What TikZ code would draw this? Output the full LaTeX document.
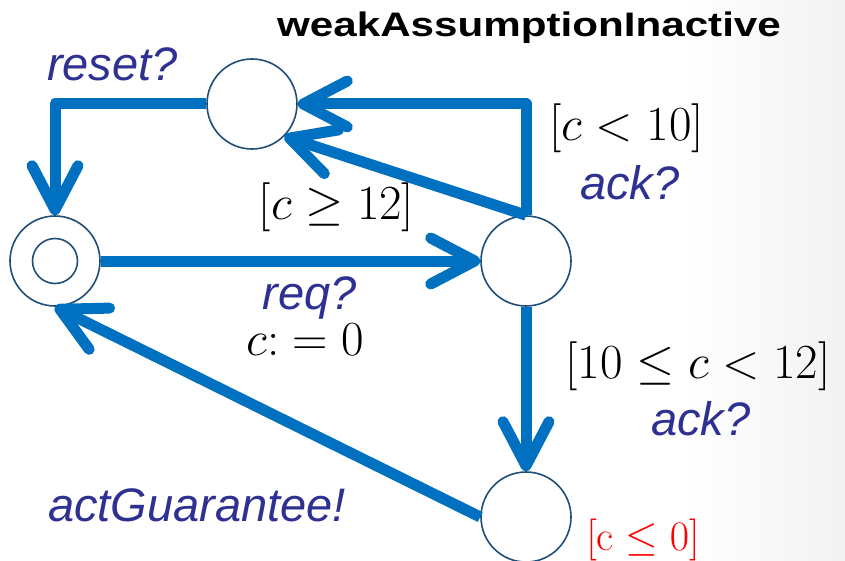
\documentclass[tikz,border=0pt]{standalone}
\usepackage{fix-cm}
\usepackage{fontspec}
\newfontfamily\arialfont{Liberation Sans}
\usetikzlibrary{arrows.meta, positioning}
\definecolor{arrowblue}{RGB}{0,112,192}
\definecolor{statenavy}{RGB}{31,78,121}
\definecolor{labelindigo}{RGB}{46,49,146}
\tikzstyle{loc} = [circle, minimum size=90pt, inner sep=0pt, draw=statenavy, line width=1.6pt, fill=white]
\tikzstyle{inloc} = [circle, minimum size=45pt, inner sep=0pt, draw=statenavy, line width=1.6pt]
\tikzstyle{lbl} = [inner sep=0pt, text=labelindigo, font=\fontsize{47}{50}\selectfont\arialfont\itshape]
\tikzstyle{guard} = [inner sep=0pt, text=black, font=\fontsize{49}{52}\selectfont]
\tikzstyle{inv} = [inner sep=0pt, text=red, font=\fontsize{42}{44}\selectfont]
\tikzstyle{heading} = [inner sep=0pt, font=\fontsize{34}{38}\selectfont\arialfont\bfseries]
\tikzstyle{arrow} = [line width=11pt, draw=arrowblue, line join=round, -{Straight Barb[length=44pt, width=46pt, round]}]

\begin{document}
\begin{tikzpicture}[x=1pt, y=1pt, node distance=157pt]

% background
\shade[left color=white, right color=gray!10] (680,0) rectangle (845,-561);
\useasboundingbox (0,0) rectangle (845,-561);

% locations
\node (init) [loc] at (55,-261) {};
\node (initIn) [inloc] at (init) {};
\node (top) [loc, above of=init, xshift=197pt] {};
\node (mid) [loc, right of=init, xshift=314pt] {};
\node (bot) [loc, below of=mid, yshift=-99pt] {};

\node (heading) [heading, above of=mid, xshift=3pt, yshift=76pt] {\scalebox{1.24}[1]{weakAssumptionInactive}};

% transitions
\draw[arrow] (top) -| node[lbl, pos=0.31, above=18pt] (resetLbl) {reset?} (init);

\draw[arrow] (init) -- node[lbl, pos=0.55, below=10pt] (reqLbl) {req?} (mid);
\node (clkReset) [guard, node distance=42pt, below of=reqLbl, xshift=-4pt] {$c{:}=0$};

\draw[arrow] (mid) |- node[guard, pos=0.39, right=18pt] (guardTen) {$[c<10]$} (top);
\node (ackTen) [lbl, node distance=54pt, below of=guardTen, xshift=3pt] {ack?};

\draw[arrow] (mid.north) -- node[guard, pos=0.44, anchor=north east, yshift=3pt] (guardTwelve) {$[c\geq 12]$} (top.south east);

\draw[arrow] (mid) -- node[guard, pos=0.36, right=34pt] (guardMid) {$[10\leq c<12]$} (bot);
\node (ackMid) [lbl, node distance=53pt, below of=guardMid, xshift=3pt] {ack?};

\draw[arrow] (bot.west) -- (init.south);
\node (actLbl) [lbl, left of=bot, xshift=-172pt, yshift=12pt] {actGuarantee!};

% invariant
\node (inv) [inv, right of=bot, xshift=-40pt, yshift=-23pt] {$[\mathrm{c}\leq 0]$};

\end{tikzpicture}
\end{document}
